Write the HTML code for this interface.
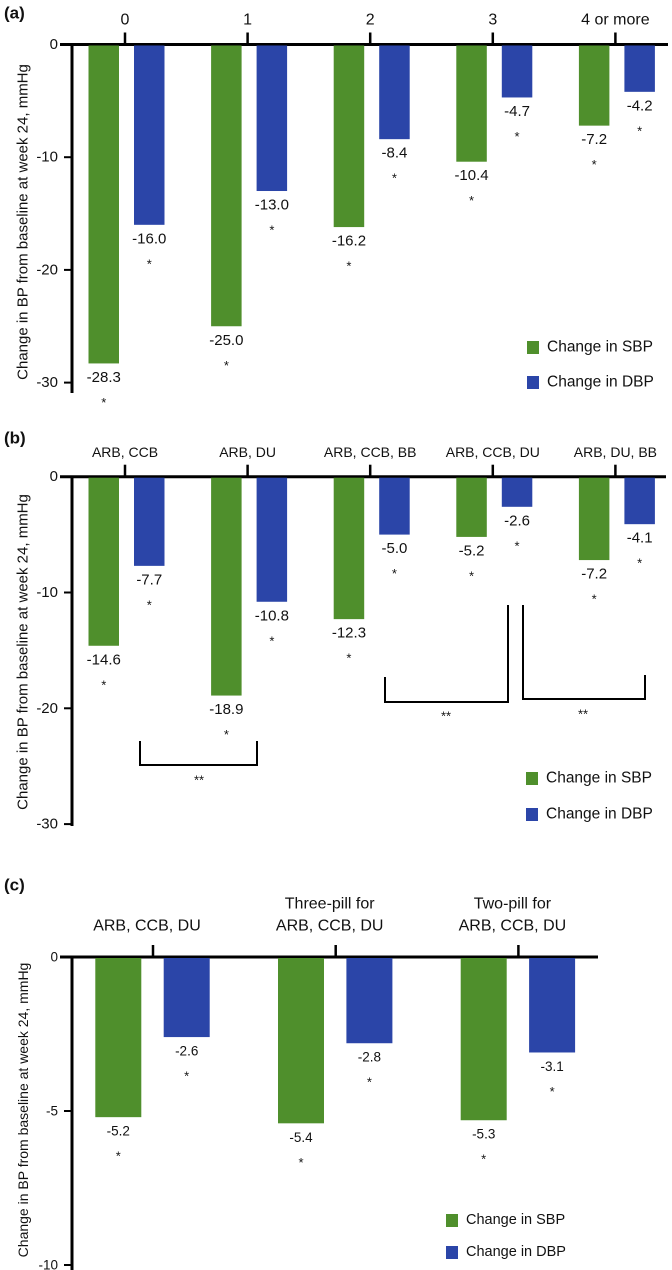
<!DOCTYPE html>
<html><head><meta charset="utf-8"><style>
html,body{margin:0;padding:0;background:#fff;}
svg{display:block;font-family:"Liberation Sans",Arial,sans-serif;}
</style></head><body>
<svg id="chart" width="672" height="1270" viewBox="0 0 672 1270" xmlns="http://www.w3.org/2000/svg"></svg>
<script>
const catsA = ["0","1","2","3","4 or more"];
const sbpA = [-28.3,-25.0,-16.2,-10.4,-7.2];
const dbpA = [-16.0,-13.0,-8.4,-4.7,-4.2];
const ticksA = [0,-10,-20,-30];
const catsB = ["ARB, CCB","ARB, DU","ARB, CCB, BB","ARB, CCB, DU","ARB, DU, BB"];
const sbpB = [-14.6,-18.9,-12.3,-5.2,-7.2];
const dbpB = [-7.7,-10.8,-5.0,-2.6,-4.1];
const ticksB = [0,-10,-20,-30];
const catsC = [["ARB, CCB, DU"],["Three-pill for","ARB, CCB, DU"],["Two-pill for","ARB, CCB, DU"]];
const sbpC = [-5.2,-5.4,-5.3];
const dbpC = [-2.6,-2.8,-3.1];
const ticksC = [0,-5,-10];

const G="#4f8f2c", B="#2b45a8";
const AX=72;
const svg=document.getElementById('chart');
const NS="http://www.w3.org/2000/svg";
function mk(tag,attrs,parent){const e=document.createElementNS(NS,tag);for(const k in attrs)e.setAttribute(k,attrs[k]);(parent||svg).appendChild(e);return e;}
function txt(s,x,y,size,anchor,parent,weight){const t=mk('text',{x:x,y:y,'font-size':size,'text-anchor':anchor||'middle','dominant-baseline':'central',fill:'#111'},parent);if(weight)t.setAttribute('font-weight',weight);t.textContent=s;return t;}

function panel(o){
  const g=mk('g',{});
  
  
  const Y=v=>o.y0-v*o.pxPer;
  const X=i=>o.x0+i*o.step;
  const pl=txt(o.letter,o.letterX,o.letterY,17,'start',g,'bold');
  
  
  const ya=mk('line',{x1:AX,y1:o.y0-1,x2:AX,y2:o.yBottom,stroke:'#000','stroke-width':3},g);
  
  
  o.ticks.forEach(t=>{
    mk('line',{x1:AX-8,y1:Y(t),x2:AX,y2:Y(t),stroke:'#000','stroke-width':2},g);
    const tl=txt(String(t),AX-14,Y(t),o.tickSize,'end',g);
    
    
  });
  const xa=mk('line',{x1:AX-12,y1:o.y0,x2:o.xRight,y2:o.y0,stroke:'#000','stroke-width':3},g);
  
  
  const yt=mk('text',{x:0,y:0,'font-size':o.titleSize,'text-anchor':'middle','dominant-baseline':'central',fill:'#111',transform:`translate(23,${o.titleY}) rotate(-90)`},g);
  yt.textContent="Change in BP from baseline at week 24, mmHg";
  
  
  o.cats.forEach((c,i)=>{
    const cx=X(i);
    mk('line',{x1:cx,y1:o.y0-12,x2:cx,y2:o.y0,stroke:'#000','stroke-width':2.5},g);
    const lines=Array.isArray(c)?c:[c];
    lines.forEach((l,k)=>{
      const cl=txt(l,cx+(o.labelDx||0),o.catY+(k-(lines.length-1))*o.catLine,o.catSize,'middle',g);
      
      
    });
    [[o.sbp[i],G,o.gOff,'sbp'],[o.dbp[i],B,o.bOff,'dbp']].forEach(([v,col,off,nm])=>{
      const bx=cx+off;
      const r=mk('rect',{x:bx,y:o.y0+1,width:o.bw,height:Math.max(0,Y(v)-o.y0-1),fill:col},g);
      
      
      const vl=txt(v.toFixed(1),bx+o.bw/2,Y(v)+14,o.valSize,'middle',g);
      
      
      const st=txt('*',bx+o.bw/2,Y(v)+39,13,'middle',g);
      
      
    });
  });
  [[G,'Change in SBP',o.legY1],[B,'Change in DBP',o.legY2]].forEach(([col,lab,ly])=>{
    const sq=mk('rect',{x:o.legX,y:ly-6,width:12,height:13,fill:col},g);
    
    
    const lt=txt(lab,o.legX+20,ly,o.legSize,'start',g);
    
    
  });
  return g;
}

panel({name:'panel-a',letter:'(a)',letterX:4,letterY:13,y0:44.5,pxPer:11.27,yBottom:393,ticks:ticksA,cats:catsA,sbp:sbpA,dbp:dbpA,
  x0:125,step:122.6,xRight:668,gOff:-36.5,bOff:9,bw:30.5,catY:20,catLine:16,catSize:16,tickSize:15,valSize:15,titleSize:15,titleY:222,
  legX:527,legY1:347,legY2:382,legSize:15.5});
panel({name:'panel-b',letter:'(b)',letterX:4,letterY:438,y0:476.7,pxPer:11.58,yBottom:826,ticks:ticksB,cats:catsB,sbp:sbpB,dbp:dbpB,
  x0:125,step:122.6,xRight:666,gOff:-36.5,bOff:9,bw:30.5,catY:452,catLine:16,catSize:14,tickSize:15,valSize:15,titleSize:15,titleY:652,
  legX:526,legY1:778,legY2:814,legSize:15.5});
panel({name:'panel-c',letter:'(c)',letterX:4,letterY:885,y0:957,pxPer:30.8,yBottom:1270,ticks:ticksC,cats:catsC,sbp:sbpC,dbp:dbpC,
  x0:153,step:182.7,xRight:598,gOff:-57.7,bOff:10.7,bw:46,catY:926,catLine:22,catSize:16,labelDx:-6,tickSize:13.5,valSize:13.5,titleSize:14,titleY:1110,
  legX:446,legY1:1220,legY2:1252,legSize:14.5});

const br=[
  {pts:[[140,741],[140,765],[257,765],[257,741]],sx:199,sy:780},
  {pts:[[385,677],[385,702],[508,702],[508,605]],sx:446,sy:716},
  {pts:[[523,605],[523,699],[645,699],[645,675]],sx:583,sy:714}
];
br.forEach(b=>{
  const p=mk('polyline',{points:b.pts.map(q=>q.join(',')).join(' '),fill:'none',stroke:'#000','stroke-width':2});
  
  
  const s=txt('**',b.sx,b.sy,13,'middle');
  
  
});
</script>
</body></html>
